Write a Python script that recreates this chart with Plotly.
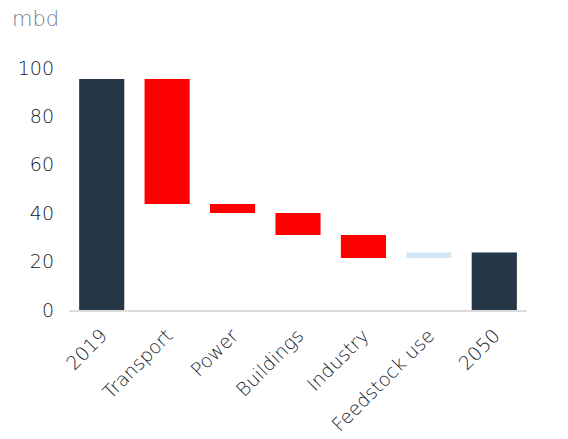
import plotly.graph_objects as go

categories = ["2019", "Transport", "Power", "Buildings", "Industry", "Feedstock use", "2050"]
values = [95.5, -51.7, -3.7, -9.1, -9.5, 2.3, 0]
measures = ["absolute", "relative", "relative", "relative", "relative", "relative", "total"]
y_ticks = [0, 20, 40, 60, 80, 100]

NAVY = "#253746"
TEXT = "#14222e"
FONT = "DejaVu Sans"

fig = go.Figure(go.Waterfall(
    x=categories,
    y=values,
    measure=measures,
    decreasing=dict(marker=dict(color="#ff0000")),
    increasing=dict(marker=dict(color="#d3e8f4")),
    totals=dict(marker=dict(color=NAVY)),
    connector=dict(visible=False),
    width=0.69,
    textinfo="none",
    hoverinfo="x+y",
))

fig.update_layout(
    width=568, height=439,
    margin=dict(l=69, r=41, t=68, b=128.5, autoexpand=False),
    paper_bgcolor="white", plot_bgcolor="white",
    showlegend=False,
    font=dict(family=FONT, color=TEXT, weight=200),
    title=dict(text="mbd", xref="container", x=12/568, xanchor="left",
               yref="container", y=1 - 11/439, yanchor="top",
               font=dict(size=21, color="#6f7f90", family=FONT, weight=200)),
    xaxis=dict(tickangle=-45, tickfont=dict(size=19, color=TEXT, weight=200),
               showline=True, linecolor="#dcdcdc", linewidth=2,
               showgrid=False, zeroline=False, ticks="", ticklabelstandoff=5),
    yaxis=dict(range=[0, 100], tickvals=y_ticks, tickfont=dict(size=19, color=TEXT, weight=200),
               showgrid=False, zeroline=False, showline=False,
               ticklabelstandoff=14),
)

fig.write_html("out.html", config={"displayModeBar": False},
               post_script="document.body.style.margin='0';document.body.style.padding='0';")
